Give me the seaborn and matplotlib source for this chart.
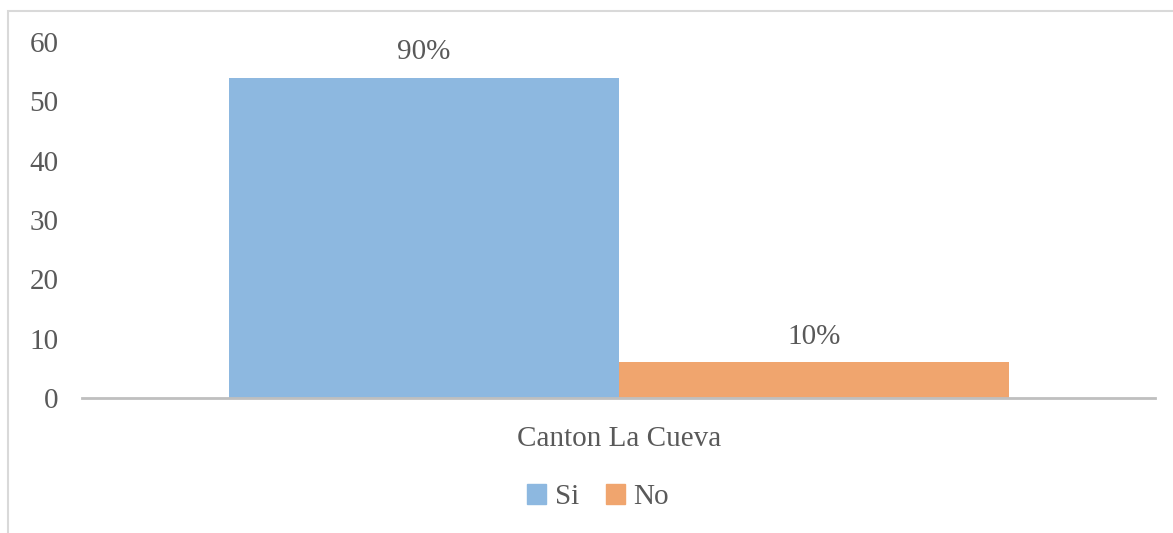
import pandas as pd
import matplotlib.pyplot as plt
import matplotlib.patches as mpatches
import seaborn as sns

# data
categories = ['Canton La Cueva', 'Canton La Cueva']
answers = ['Si', 'No']
counts = [54, 6]
pct_labels = ['90%', '10%']
colors = ['#8DB8E0', '#F0A56E']

df = pd.DataFrame({'lugar': categories, 'respuesta': answers, 'n': counts})

sns.set_style('white')
plt.rcParams['font.family'] = ['Liberation Serif', 'DejaVu Serif']
text_gray = '#595959'
fs = 21

fig = plt.figure(figsize=(11.73, 5.33), dpi=100)
ax = fig.add_axes([0.07, 0.2533, 0.915, 0.6677])

sns.barplot(data=df, x='lugar', y='n', hue='respuesta', palette=colors,
            width=0.727, saturation=1, linewidth=0, ax=ax, legend=False)

# percentage labels above the bars
for cont, lab in zip(ax.containers, pct_labels):
    ax.bar_label(cont, labels=[lab], padding=9, fontsize=fs, color=text_gray)

ax.set_ylim(0, 60)
ax.set_yticks(range(0, 61, 10))
ax.set_xlim(-0.5, 0.5)
ax.set_xlabel('')
ax.set_ylabel('')
ax.tick_params(axis='both', length=0, labelsize=fs, labelcolor=text_gray)
ax.tick_params(axis='y', pad=17)
ax.tick_params(axis='x', pad=20)
for side in ['left', 'top', 'right']:
    ax.spines[side].set_visible(False)
ax.spines['bottom'].set_color('#BFBFBF')
ax.spines['bottom'].set_linewidth(2)

# legend below the category label
handles = [mpatches.Patch(color=c, label=a) for a, c in zip(answers, colors)]
fig.legend(handles=handles, loc='center', bbox_to_anchor=(0.51, 0.0675), ncol=2,
           frameon=False, fontsize=fs, handlelength=0.65, handleheight=0.65,
           handletextpad=0.3, columnspacing=0.9, labelcolor=text_gray)

# chart area border (cut off on the right and bottom in the reference)
fig.add_artist(mpatches.Rectangle((0.0068, -0.05), 1.1, 0.05 + 0.979,
                                  transform=fig.transFigure, fill=False,
                                  edgecolor='#D9D9D9', linewidth=1.5))

fig.savefig('out.png', dpi=100)
